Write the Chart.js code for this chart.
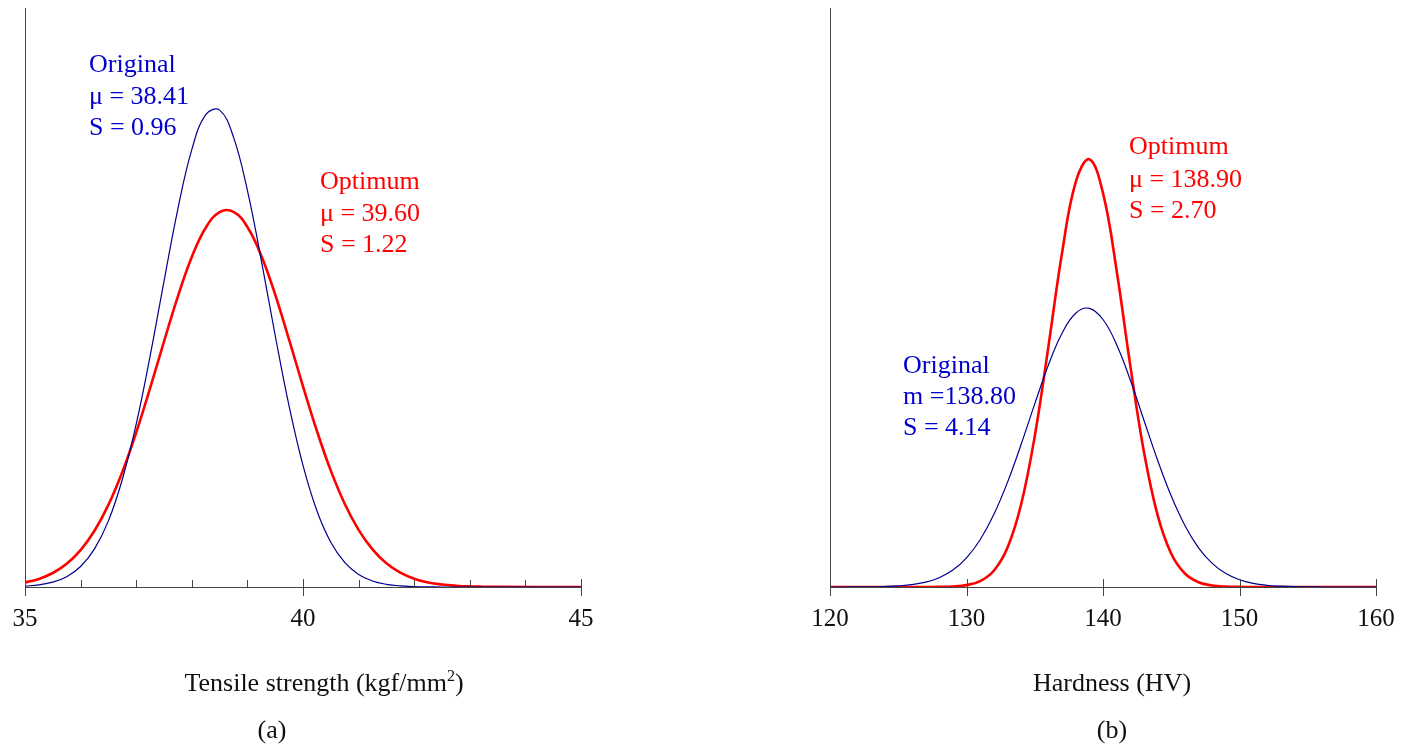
<!DOCTYPE html>
<html>
<head>
<meta charset="utf-8">
<script src="https://cdn.jsdelivr.net/npm/chart.js@4.4.1/dist/chart.umd.min.js"></script>
<style>
  html, body { margin: 0; padding: 0; background: #fff; width: 1406px; height: 746px; overflow: hidden; }
  canvas { position: absolute; top: 0; }
  #chartA { left: 0; }
  #chartB { left: 700px; }
</style>
</head>
<body>
<canvas id="chartA" width="700" height="746"></canvas>
<canvas id="chartB" width="706" height="746"></canvas>
<script>
// (a) tensile strength, kgf/mm2 -- curve heights
const tensileX = [35, 35.25, 35.5, 35.75, 36, 36.25, 36.5, 36.75, 37, 37.25, 37.5, 37.75,
  38, 38.25, 38.5, 38.75, 39, 39.25, 39.5, 39.75, 40, 40.25, 40.5, 40.75,
  41, 41.25, 41.5, 41.75, 42, 42.25, 42.5, 42.75, 43, 43.25, 43.5, 45];
const tensileOriginal = [0.9, 2.1, 4.8, 10.3, 20.5, 38.1, 66.1, 107.5, 162.8, 230.9, 305.7, 378.2,
  437.3, 472.4, 476.9, 449.9, 396.6, 326.7, 251.5, 180.9, 121.6, 76.3, 44.8, 24.6,
  12.6, 6.0, 2.7, 1.1, 0.4, 0.1, 0, 0, 0, 0, 0, 0];
const tensileOptimum = [4.5, 8.1, 14.0, 23.2, 36.9, 56.2, 82.1, 115.0, 154.4, 198.8, 245.5, 290.7,
  330.0, 359.2, 374.9, 375.2, 360.0, 331.3, 292.4, 247.3, 200.7, 156.1, 116.4, 83.3,
  57.1, 37.6, 23.7, 14.3, 8.3, 4.6, 2.5, 1.3, 0.6, 0.3, 0.1, 0];
const tensileTicks = [35, 40, 45];
const tensileMinorTicks = [36, 37, 38, 39, 41, 42, 43, 44];

// (b) hardness, HV
const hardnessX = [120, 121, 122, 123, 124, 125, 126, 127, 128, 129, 130, 131, 132, 133, 134,
  135, 136, 137, 138, 139, 140, 141, 142, 143, 144, 145, 146, 147, 148, 149, 150,
  151, 152, 153, 154, 155, 156, 157, 158, 159, 160];
const hardnessOriginal = [0, 0, 0.1, 0.2, 0.5, 1.1, 2.3, 4.8, 9.3, 16.9, 29.2, 47.3, 72.4, 104.6, 142.5,
  183.1, 222.0, 253.8, 273.8, 278.7, 267.5, 242.3, 207.0, 166.8, 126.8, 90.9, 61.5, 39.2, 23.6, 13.4, 7.2,
  3.6, 1.7, 0.8, 0.3, 0.1, 0, 0, 0, 0, 0];
const hardnessOptimum = [0, 0, 0, 0, 0, 0, 0, 0, 0.1, 0.5, 1.9, 5.9, 16.3, 39.3, 82.5,
  150.8, 240.4, 334.1, 404.9, 427.7, 393.9, 316.3, 221.4, 135.1, 71.9, 33.3, 13.5, 4.8, 1.5, 0.4, 0.1,
  0, 0, 0, 0, 0, 0, 0, 0, 0, 0];
const hardnessTicks = [120, 130, 140, 150, 160];

const SERIF = '"Liberation Serif", "Times New Roman", serif';
const BLUE_LINE = '#00008c';
const BLUE_TEXT = '#0000cc';
const RED = '#ff0000';
const AXIS = '#444';

function points(xs, ys) {
  return xs.map((x, i) => ({ x: x, y: ys[i] }));
}

function axisTicks(major, minor) {
  return {
    id: 'axisTicks',
    afterDraw(chart) {
      const ctx = chart.ctx;
      const sx = chart.scales.x;
      const y0 = chart.chartArea.bottom;
      ctx.save();
      ctx.strokeStyle = AXIS;
      ctx.lineWidth = 1;
      ctx.beginPath();
      major.forEach(v => {
        const px = Math.round(sx.getPixelForValue(v)) + 0.5;
        ctx.moveTo(px, y0 - 8);
        ctx.lineTo(px, y0 + 9);
      });
      minor.forEach(v => {
        const px = Math.round(sx.getPixelForValue(v)) + 0.5;
        ctx.moveTo(px, y0 - 7);
        ctx.lineTo(px, y0);
      });
      ctx.stroke();
      ctx.restore();
    }
  };
}

// notes: text, x, y (canvas coords), colour; the title may carry a superscript
function notes(items, title, sub) {
  return {
    id: 'notes',
    afterDraw(chart) {
      const ctx = chart.ctx;
      ctx.save();
      ctx.textBaseline = 'middle';
      ctx.font = '26px ' + SERIF;
      ctx.textAlign = 'left';
      items.forEach(it => {
        ctx.fillStyle = it.color;
        ctx.fillText(it.text, it.x, it.y);
      });

      ctx.fillStyle = '#111';
      ctx.font = '26px ' + SERIF;
      const w1 = ctx.measureText(title.text).width;
      ctx.font = '16px ' + SERIF;
      const w2 = title.sup ? ctx.measureText(title.sup).width : 0;
      ctx.font = '26px ' + SERIF;
      const w3 = title.after ? ctx.measureText(title.after).width : 0;
      let x = title.x - (w1 + w2 + w3) / 2;
      ctx.fillText(title.text, x, title.y);
      x += w1;
      if (title.sup) {
        ctx.font = '16px ' + SERIF;
        ctx.fillText(title.sup, x, title.y - 7);
        x += w2;
        ctx.font = '26px ' + SERIF;
      }
      if (title.after) ctx.fillText(title.after, x, title.y);

      ctx.textAlign = 'center';
      ctx.fillText(sub.text, sub.x, sub.y);
      ctx.restore();
    }
  };
}

function makeChart(canvas, cfg) {
  return new Chart(canvas, {
    type: 'line',
    data: {
      datasets: [
        {
          label: 'Original',
          data: points(cfg.xs, cfg.original),
          borderColor: BLUE_LINE,
          borderWidth: 1.2,
          pointRadius: 0,
          tension: 0.4,
          fill: false
        },
        {
          label: 'Optimum',
          data: points(cfg.xs, cfg.optimum),
          borderColor: RED,
          borderWidth: 2.6,
          pointRadius: 0,
          tension: 0.4,
          fill: false
        }
      ]
    },
    options: {
      responsive: false,
      animation: false,
      events: [],
      layout: { padding: { left: cfg.padLeft, right: cfg.padRight, top: 8, bottom: 0 } },
      plugins: { legend: { display: false }, tooltip: { enabled: false } },
      scales: {
        x: {
          type: 'linear',
          min: cfg.min,
          max: cfg.max,
          afterBuildTicks(scale) { scale.ticks = cfg.ticks.map(v => ({ value: v })); },
          afterFit(scale) {
            scale.height = 159;
            scale.paddingLeft = 0;
            scale.paddingRight = 0;
          },
          ticks: {
            color: '#111',
            padding: 17,
            maxRotation: 0,
            autoSkip: false,
            font: { family: SERIF, size: 25 }
          },
          grid: { display: false, drawTicks: false },
          border: { display: true, color: AXIS, width: 1 }
        },
        y: {
          min: 0,
          max: 579,
          afterFit(scale) {
            scale.width = 0;
            scale.paddingTop = 0;
            scale.paddingBottom = 0;
          },
          ticks: { display: false },
          grid: { display: false, drawTicks: false },
          border: { display: true, color: AXIS, width: 1 }
        }
      }
    },
    plugins: cfg.plugins
  });
}

makeChart(document.getElementById('chartA'), {
  xs: tensileX, original: tensileOriginal, optimum: tensileOptimum,
  min: 35, max: 45, ticks: tensileTicks,
  padLeft: 25, padRight: 119,
  plugins: [
    axisTicks(tensileTicks, tensileMinorTicks),
    notes([
      { text: 'Original', x: 89, y: 65, color: BLUE_TEXT },
      { text: 'μ = 38.41', x: 89, y: 97, color: BLUE_TEXT },
      { text: 'S = 0.96', x: 89, y: 128, color: BLUE_TEXT },
      { text: 'Optimum', x: 320, y: 182, color: RED },
      { text: 'μ = 39.60', x: 320, y: 214, color: RED },
      { text: 'S = 1.22', x: 320, y: 245, color: RED }
    ],
    { text: 'Tensile strength (kgf/mm', sup: '2', after: ')', x: 324, y: 684 },
    { text: '(a)', x: 272, y: 731 })
  ]
});

makeChart(document.getElementById('chartB'), {
  xs: hardnessX, original: hardnessOriginal, optimum: hardnessOptimum,
  min: 120, max: 160, ticks: hardnessTicks,
  padLeft: 130, padRight: 30,
  plugins: [
    axisTicks(hardnessTicks, []),
    notes([
      { text: 'Optimum', x: 429, y: 147, color: RED },
      { text: 'μ = 138.90', x: 429, y: 180, color: RED },
      { text: 'S = 2.70', x: 429, y: 211, color: RED },
      { text: 'Original', x: 203, y: 366, color: BLUE_TEXT },
      { text: 'm =138.80', x: 203, y: 397, color: BLUE_TEXT },
      { text: 'S = 4.14', x: 203, y: 428, color: BLUE_TEXT }
    ],
    { text: 'Hardness (HV)', x: 412, y: 684 },
    { text: '(b)', x: 412, y: 731 })
  ]
});
</script>
</body>
</html>
